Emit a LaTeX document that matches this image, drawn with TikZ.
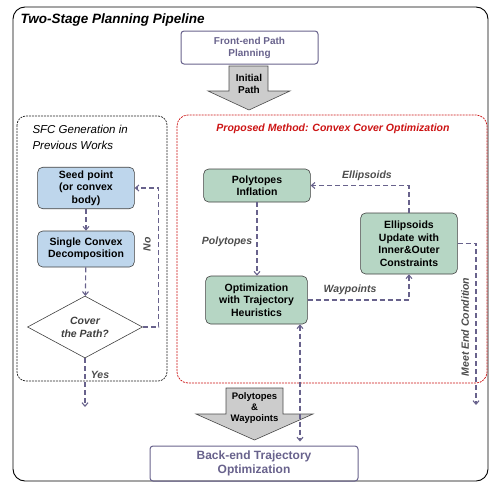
\documentclass[tikz,border=0pt]{standalone}
\usepackage{fontspec}
\setmainfont{Liberation Sans}
\usetikzlibrary{arrows.meta,shapes.geometric}
\definecolor{flowc}{RGB}{104,98,140}
\definecolor{seedblue}{RGB}{190,214,236}
\definecolor{optgreen}{RGB}{182,214,196}
\definecolor{propred}{RGB}{204,20,20}
\definecolor{bigarrow}{RGB}{204,204,204}
\tikzset{
  flow/.style={flowc,line width=1.1pt,dash pattern=on 5pt off 3pt,-{Straight Barb[length=3.5pt,width=6pt]}},
  blockb/.style={draw=black!75,fill=seedblue,rounded corners=5pt,line width=0.6pt,font=\bfseries\fontsize{10.5}{12.5}\selectfont,align=center,text width=90pt},
  blockg/.style={blockb,fill=optgreen},
  endbox/.style={draw=flowc,rounded corners=3pt,line width=1pt,text=flowc,align=center},
  lbl/.style={text=black!70,font=\bfseries\itshape\fontsize{10.5}{12}\selectfont},
  fatarrow/.style={draw=black!70,fill=bigarrow,line width=0.6pt}
}
\begin{document}
\begin{tikzpicture}[x=1pt,y=-1pt]
\useasboundingbox (0,0) rectangle (489,482);
% outer frame
\draw[line width=0.9pt,rounded corners=12pt] (13,7) rectangle (488,481);
\node[anchor=west,font=\bfseries\itshape\fontsize{13.5}{15}\selectfont] (title) at (17,20) {Two-Stage Planning Pipeline};

% front end
\node[endbox,minimum width=137pt,minimum height=33pt,font=\bfseries\fontsize{10}{12}\selectfont] (front) at (249.5,47.5) {Front-end Path\\Planning};
\draw[fatarrow] (229,66) -- (268,66) -- (268,91) -- (290,91) -- (249,110) -- (208,91) -- (229,91) -- cycle;
\node[font=\bfseries\fontsize{10}{12}\selectfont,align=center] (initial) at (249,84) {Initial\\Path};

% previous works
\draw[black!85,line width=0.7pt,dash pattern=on 2pt off 1pt,rounded corners=9pt] (17,116) rectangle (167,381);
\node[anchor=north west,align=left,font=\itshape\fontsize{11.5}{15.5}\selectfont] (sfc) at (29,122) {SFC Generation in\\Previous Works};
\node[blockb,minimum height=38pt] (seed) at (86,188) {Seed point\\(or convex\\body)};
\node[blockb,minimum height=36pt] (single) at (86,249) {Single Convex\\Decomposition};
\node[diamond,draw=black!75,line width=0.6pt,aspect=1.85,inner sep=1pt,minimum width=115pt,minimum height=62pt,align=center,text=black!75,font=\bfseries\itshape\fontsize{10.5}{13}\selectfont] (cover) at (85,327) {Cover\\the Path?};
\coordinate (yesend) at (85,407);
\draw[flow] (seed) -- (single);
\draw[flow] (single) -- (cover);
\draw[flow] (cover.east) -- ++(16,0) |- (seed.east);
\draw[flow] (cover.south) -- (yesend);
\node[lbl,rotate=90] (no) at (147,244) {No};
\node[lbl] (yes) at (100,375) {Yes};

% proposed method
\draw[propred,line width=0.7pt,dash pattern=on 2pt off 1pt,rounded corners=11pt] (177,115) rectangle (487,383);
\node[text=propred,font=\bfseries\itshape\fontsize{10.5}{12}\selectfont] (prop) at (333,129) {Proposed Method: Convex Cover Optimization};
\node[blockg,text width=100pt,minimum height=33pt] (infl) at (257,185.5) {Polytopes\\Inflation};
\node[blockg,text width=90pt,minimum height=61pt] (ellup) at (409,243.5) {Ellipsoids\\Update with\\Inner\&Outer\\Constraints};
\node[blockg,text width=95pt,minimum height=48pt] (optim) at (256.5,300) {Optimization\\with Trajectory\\Heuristics};
\coordinate (endpt) at (476,405);
\coordinate (bx) at (300,0);
\draw[flow] (ellup.north) |- (infl.east);
\draw[flow] (infl.south) -- (infl.south |- optim.north);
\draw[flow] (optim.east) -| (ellup.south);
\draw[flow] (ellup.east) -| (endpt);
\node[lbl] (ellab) at (367,176) {Ellipsoids};
\node[lbl] (polab) at (227,242) {Polytopes};
\node[lbl] (wplab) at (350,290) {Waypoints};
\node[lbl,rotate=90] (meet) at (465,327) {Meet End Condition};

% back end
\draw[fatarrow] (226,388) -- (283,388) -- (283,414) -- (313,414) -- (254.5,440) -- (196,414) -- (226,414) -- cycle;
\node[font=\bfseries\fontsize{9.5}{11}\selectfont,align=center] (pw) at (254.5,408) {Polytopes\\\&\\Waypoints};
\node[endbox,minimum width=208pt,minimum height=35pt,font=\bfseries\fontsize{12}{14}\selectfont] (back) at (254,463.5) {Back-end Trajectory\\Optimization};
\draw[flow,{Straight Barb[length=3.5pt,width=6pt]}-{Straight Barb[length=3.5pt,width=6pt]},shorten >=4pt] (optim.south -| bx) -- (back.north -| bx);
\end{tikzpicture}
\end{document}
